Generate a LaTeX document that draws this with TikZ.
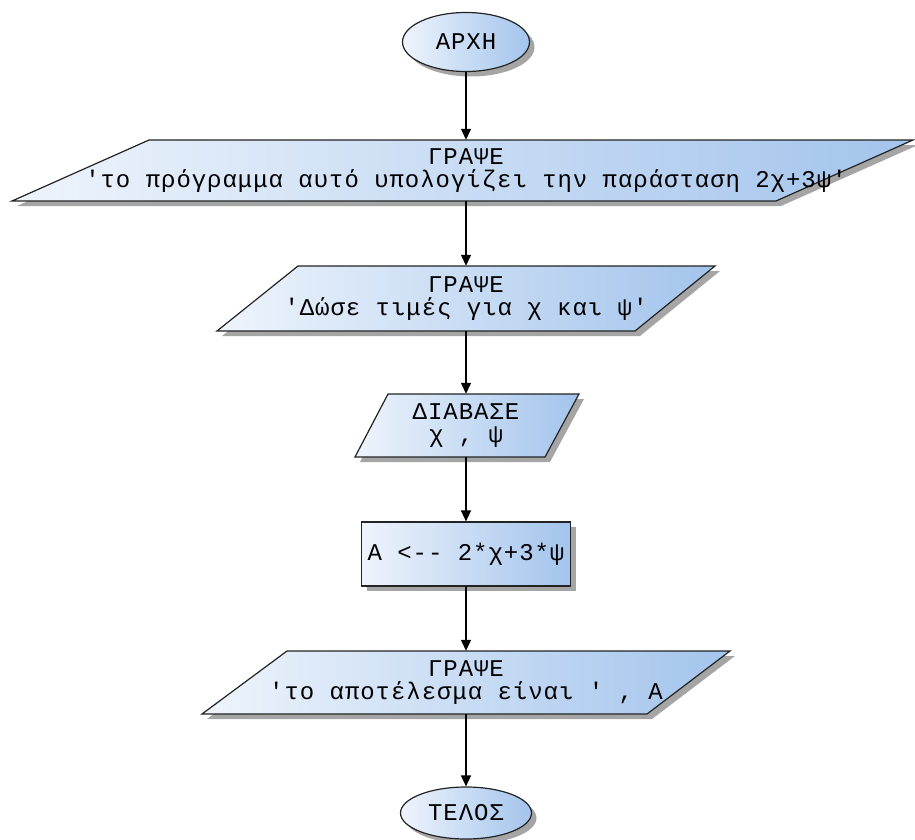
\documentclass[tikz,border=0pt]{standalone}
\usepackage{fontspec}
\setmonofont{Liberation Mono}[LetterSpace=4]
\usetikzlibrary{arrows.meta,shapes.geometric,shadows}
\definecolor{lightb}{RGB}{238,244,252}
\definecolor{darkb}{RGB}{163,196,236}
\definecolor{shad}{RGB}{165,165,165}
\definecolor{edge}{RGB}{35,35,35}
\begin{document}
\begin{tikzpicture}[x=1pt,y=-1pt,
  txt/.style={font=\ttfamily\fontsize{24}{23}\selectfont, align=center, inner sep=0pt, text=black},
  shp/.style={draw=edge, line width=1.2pt, left color=lightb, right color=darkb,
    drop shadow={shadow xshift=5pt, shadow yshift=-5pt, fill=shad, opacity=1}},
  conn/.style={draw=black, line width=1.3pt, -{Triangle[length=11pt,width=10pt]}}]
\useasboundingbox (0,0) rectangle (915,840);

% start
\node[shp, ellipse, txt, minimum width=127pt, minimum height=59pt] (start) at (466,42) {ΑΡΧΗ};

% box 1
\path[shp] (149,140) -- (913,140) -- (776,201) -- (12,201) -- cycle;
\node[txt, minimum height=61pt] (p1) at (466,170.5) {ΓΡΑΨΕ\\'το πρόγραμμα αυτό υπολογίζει την παράσταση 2χ+3ψ'};

% box 2
\path[shp] (298,266) -- (715,266) -- (635,331) -- (217,331) -- cycle;
\node[txt, minimum height=65pt] (p2) at (466,298.5) {ΓΡΑΨΕ\\'Δώσε τιμές για χ και ψ'};

% box 3
\path[shp] (388,394) -- (579,394) -- (545,457) -- (355,457) -- cycle;
\node[txt, minimum height=63pt] (p3) at (466,425.5) {ΔΙΑΒΑΣΕ\\χ , ψ};

% rectangle
\node[shp, rectangle, txt, minimum width=209pt, minimum height=64pt] (r) at (466,554) {A <-- 2*χ+3*ψ};

% box 5
\path[shp] (287,651) -- (730,651) -- (647,714) -- (202,714) -- cycle;
\node[txt, minimum height=63pt] (p5) at (466,682.5) {ΓΡΑΨΕ\\'το αποτέλεσμα είναι ' , A};

% end
\node[shp, ellipse, txt, minimum width=131pt, minimum height=52pt] (end) at (466,813) {ΤΕΛΟΣ};

\draw[conn] (start.south) -- (p1.north);
\draw[conn] (p1.south) -- (p2.north);
\draw[conn] (p2.south) -- (p3.north);
\draw[conn] (p3.south) -- (r.north);
\draw[conn] (r.south) -- (p5.north);
\draw[conn] (p5.south) -- (end.north);
\end{tikzpicture}
\end{document}
